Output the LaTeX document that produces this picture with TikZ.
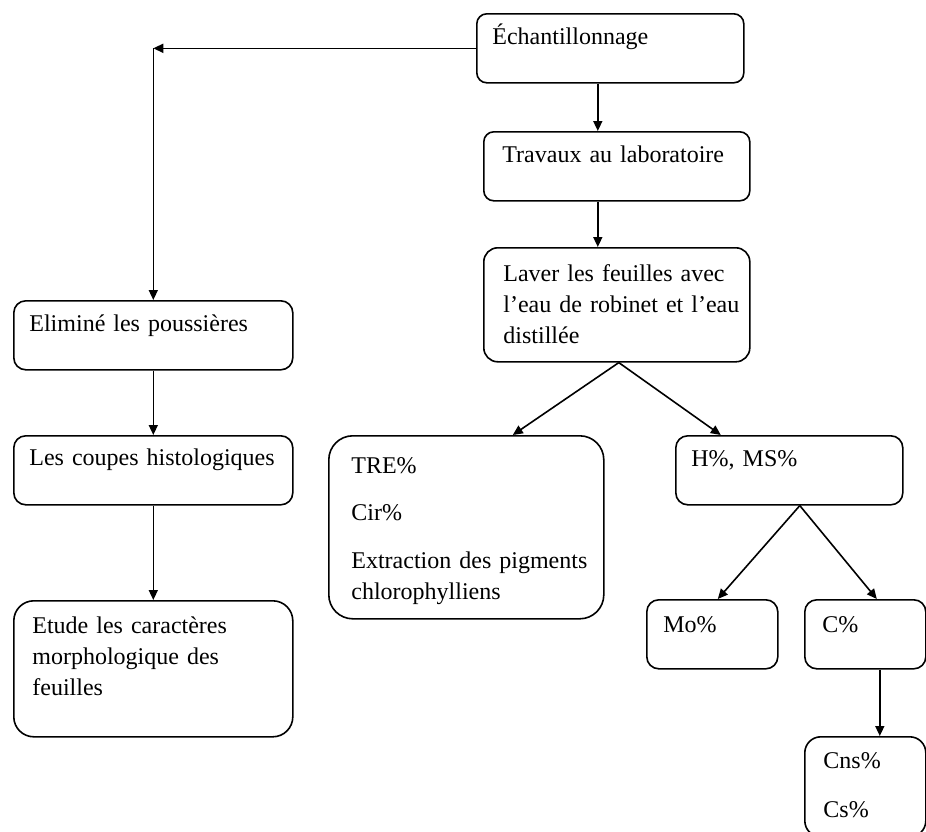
\documentclass[tikz,border=0pt]{standalone}
\usepackage{fontspec}
\setmainfont{Liberation Serif}[WordSpace=0.6]
\usetikzlibrary{arrows.meta}

\tikzset{
	boite/.style={draw, line width=0.8pt, rounded corners=6pt, anchor=north west, inner sep=0pt},
	texte/.style={anchor=base west, inner sep=0pt, text width=125pt, font=\fontsize{12}{15.5}\selectfont},
	fleche/.style={-{Triangle[length=5pt,width=4.5pt]}, line width=0.8pt},
}

\begin{document}
\begin{tikzpicture}[x=0.5pt, y=-0.5pt]
	\clip (0,0) rectangle (926,831);
	% cadres
	\node[boite, minimum width=133.5pt, minimum height=34.5pt, rounded corners=5pt] (ech) at (476,13) {};
	\node[boite, minimum width=133pt, minimum height=34.5pt, rounded corners=5pt] (trav) at (483,131) {};
	\node[boite, minimum width=133pt, minimum height=57pt, rounded corners=7pt] (lav) at (483,247) {};
	\node[boite, minimum width=139.5pt, minimum height=34.5pt] (elim) at (13,300) {};
	\node[boite, minimum width=139.5pt, minimum height=34.5pt] (coup) at (13,435) {};
	\node[boite, minimum width=139.5pt, minimum height=68pt, rounded corners=10pt] (etud) at (13,600) {};
	\node[boite, minimum width=137.5pt, minimum height=91.5pt, rounded corners=12pt] (tre) at (328,435) {};
	\node[boite, minimum width=113.5pt, minimum height=34.5pt] (hms) at (675,435) {};
	\node[boite, minimum width=65.5pt, minimum height=34.5pt] (mo) at (646,599) {};
	\node[boite, minimum width=60.5pt, minimum height=34.5pt] (cp) at (804,599) {};
	\node[boite, minimum width=60.5pt, minimum height=50pt, rounded corners=8pt] (cns) at (804,736) {};
	% textes
	\node[texte] (t-ech) at ([shift={(16,31)}]ech.north west) {Échantillonnage};
	\node[texte] (t-trav) at ([shift={(19,31)}]trav.north west) {Travaux au laboratoire};
	\node[texte] (t-lav) at ([shift={(20,34)}]lav.north west) {Laver les feuilles avec\\l’eau de robinet et l’eau\\distillée};
	\node[texte] (t-elim) at ([shift={(16,31)}]elim.north west) {Eliminé les poussières};
	\node[texte] (t-coup) at ([shift={(16,30)}]coup.north west) {Les coupes histologiques};
	\node[texte] (t-etud) at ([shift={(19,33)}]etud.north west) {Etude les caractères\\morphologique des\\feuilles};
	\node[texte] (t-tre) at ([shift={(23,38)}]tre.north west) {TRE\%\\[8pt]Cir\%\\[8.5pt]Extraction des pigments\\chlorophylliens};
	\node[texte] (t-hms) at ([shift={(16,31)}]hms.north west) {H\%, MS\%};
	\node[texte] (t-mo) at ([shift={(17,33)}]mo.north west) {Mo\%};
	\node[texte] (t-cp) at ([shift={(18,33)}]cp.north west) {C\%};
	\node[texte] (t-cns) at ([shift={(19,32)}]cns.north west) {Cns\%\\[9pt]Cs\%};
	% fleches
	\coordinate (coin) at (ech.west -| elim.north);
	\draw[fleche] (ech.west) -- (coin);
	\draw[fleche] (coin) -- (elim.north);
	\draw[fleche] (elim.south) -- (coup.north);
	\draw[fleche] (coup.south) -- (etud.north);
	\draw[fleche] ([xshift=-6.25pt]ech.south) -- ([xshift=-9.5pt]trav.north);
	\draw[fleche] ([xshift=-9.5pt]trav.south) -- ([xshift=-9.5pt]lav.north);
	\draw[fleche] ([xshift=1pt]lav.south) -- ([xshift=23.25pt]tre.north);
	\draw[fleche] ([xshift=1pt]lav.south) -- ([xshift=-34.25pt]hms.north);
	\draw[fleche] ([xshift=5.25pt]hms.south) -- ([xshift=2.75pt]mo.north);
	\draw[fleche] ([xshift=5.25pt]hms.south) -- ([xshift=5.75pt]cp.north);
	\draw[fleche] ([xshift=7.25pt]cp.south) -- ([xshift=7.25pt]cns.north);
\end{tikzpicture}
\end{document}
